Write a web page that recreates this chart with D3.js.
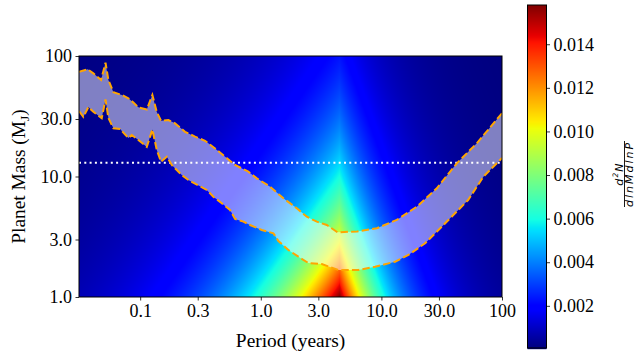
<!DOCTYPE html>
<html>
<head>
<meta charset="utf-8">
<script src="https://cdn.jsdelivr.net/npm/d3@7"></script>
<style>
  html, body { margin: 0; padding: 0; background: #ffffff; }
  svg { display: block; }
</style>
</head>
<body>
<div id="chart"></div>
<script>
// ---------------- data ----------------
const xTicks = [0.1, 0.3, 1, 3, 10, 30, 100];
const xTickLabels = ["0.1", "0.3", "1.0", "3.0", "10.0", "30.0", "100"];
const yTicks = [1, 3, 10, 30, 100];
const yTickLabels = ["1.0", "3.0", "10.0", "30.0", "100"];
const cbTicks = [0.002, 0.004, 0.006, 0.008, 0.010, 0.012, 0.014];
const cbTickLabels = ["0.002", "0.004", "0.006", "0.008", "0.010", "0.012", "0.014"];

const periodDomain = [0.0311, 100];   // years
const massDomain = [1, 100];          // Jupiter masses
const deuteriumLimit = 13;            // MJ, dotted line

// occurrence-rate model parameters (broken power law) estimated from the colours
const rateC = 0.0158;      // peak value at M = 1 MJ, P = Pbreak
const rateAlpha = -0.42;   // mass exponent
const rateBeta1 = 0.60;    // period exponent below break
const rateBeta2 = 1.15;    // period exponent above break (falling)
const rateBreak = 4.5;     // years
const colorMin = 0.000065, colorMax = 0.0158;

// band boundaries (period in years, mass in MJ)
const upperP = [0.0311, 0.0368, 0.0409, 0.0474, 0.0516, 0.0545, 0.0600, 0.0704, 0.0798, 0.0878, 0.0966, 0.1135, 0.1262, 0.1373, 0.149, 0.1714, 0.1947, 0.2356, 0.2852, 0.3452, 0.4178, 0.5058, 0.612, 0.789, 0.927, 1.194, 1.539, 1.989, 2.407, 2.913, 3.526, 4.334, 6.289, 9.161, 13.42, 19.66, 28.80, 42.2, 61.8, 100];
const upperM = [74.1, 77.5, 71.8, 63.2, 88.0, 63.2, 50.0, 47.5, 44.6, 41.1, 37.5, 36.0, 47.5, 34.3, 29.0, 29.4, 27.6, 23.5, 21.4, 19.8, 17.1, 14.6, 12.46, 10.96, 9.66, 8.23, 6.59, 5.45, 4.64, 4.22, 3.96, 3.44, 3.50, 3.72, 4.36, 5.62, 7.98, 12.87, 18.86, 33.5];
const lowerP = [0.0311, 0.0338, 0.0372, 0.0409, 0.0480, 0.0516, 0.0545, 0.0600, 0.0681, 0.0735, 0.0798, 0.0852, 0.0966, 0.1135, 0.1262, 0.1373, 0.149, 0.1662, 0.1828, 0.2213, 0.251, 0.3566, 0.4045, 0.475, 0.5566, 0.612, 0.7176, 0.815, 1.019, 1.272, 1.40, 1.694, 2.05, 2.48, 3.204, 4.40, 6.448, 8.866, 12.99, 16.74, 23.04, 31.7, 40.8, 52.4, 70.1, 100];
const lowerM = [34.97, 31.2, 37.7, 34.5, 30.4, 43.6, 30.6, 25.1, 24.8, 22.8, 20.9, 22.1, 20.1, 17.6, 24.5, 16.6, 13.27, 14.6, 12.46, 10.29, 9.35, 7.73, 6.80, 5.99, 5.27, 4.44, 4.22, 3.96, 3.60, 3.38, 2.916, 2.455, 2.16, 1.915, 1.878, 1.675, 1.675, 1.784, 1.963, 2.232, 2.79, 3.83, 4.95, 6.38, 9.96, 14.24];

// ---------------- layout ----------------
const W = 636, H = 355;
const plot = { left: 79, right: 502, top: 56, bottom: 297 };
const cb = { left: 527.5, right: 546.5, top: 5, bottom: 348 };
const serif = "'Liberation Serif', 'Times New Roman', serif";

const x = d3.scaleLog().domain(periodDomain).range([plot.left, plot.right]);
const y = d3.scaleLog().domain(massDomain).range([plot.bottom, plot.top]);
const cScale = d3.scaleLinear().domain([colorMin, colorMax]).range([0, 1]).clamp(true);
const cbY = d3.scaleLinear().domain([colorMin, colorMax]).range([cb.bottom, cb.top]);

// matplotlib 'jet'
const jr = d3.scaleLinear().domain([0, 0.35, 0.66, 0.89, 1]).range([0, 0, 1, 1, 0.5]).clamp(true);
const jg = d3.scaleLinear().domain([0, 0.125, 0.375, 0.64, 0.91, 1]).range([0, 0, 1, 1, 0, 0]).clamp(true);
const jb = d3.scaleLinear().domain([0, 0.11, 0.34, 0.65, 1]).range([0.5, 1, 1, 0, 0]).clamp(true);
function jet(t) { return [Math.round(jr(t) * 255), Math.round(jg(t) * 255), Math.round(jb(t) * 255)]; }

function rate(P, M) {
  const r = P / rateBreak;
  const fp = P < rateBreak ? Math.pow(r, rateBeta1) : Math.pow(r, -rateBeta2);
  return rateC * Math.pow(M, rateAlpha) * fp;
}

const svg = d3.select("#chart").append("svg").attr("width", W).attr("height", H);

// ---------------- heatmap ----------------
const pw = plot.right - plot.left, ph = plot.bottom - plot.top;
const canvas = document.createElement("canvas");
canvas.width = pw; canvas.height = ph;
const ctx = canvas.getContext("2d");
const img = ctx.createImageData(pw, ph);
for (let j = 0; j < ph; j++) {
  const M = y.invert(plot.top + j + 0.5);
  for (let i = 0; i < pw; i++) {
    const P = x.invert(plot.left + i + 0.5);
    const c = jet(cScale(rate(P, M)));
    const k = (j * pw + i) * 4;
    img.data[k] = c[0]; img.data[k + 1] = c[1]; img.data[k + 2] = c[2]; img.data[k + 3] = 255;
  }
}
ctx.putImageData(img, 0, 0);
svg.append("image")
  .attr("x", plot.left).attr("y", plot.top).attr("width", pw).attr("height", ph)
  .attr("preserveAspectRatio", "none")
  .attr("href", canvas.toDataURL());

svg.append("clipPath").attr("id", "clip")
  .append("rect").attr("x", plot.left).attr("y", plot.top).attr("width", pw).attr("height", ph);

const gPlot = svg.append("g").attr("clip-path", "url(#clip)");

// band
const upper = upperP.map((p, i) => [p, upperM[i]]);
const lower = lowerP.map((p, i) => [p, lowerM[i]]);
const poly = upper.concat(lower.slice().reverse());
gPlot.append("path")
  .attr("d", d3.line().x(d => x(d[0])).y(d => y(d[1]))(poly) + "Z")
  .attr("fill", "#ffffff").attr("fill-opacity", 0.5).attr("stroke", "none");

// deuterium burning limit line
gPlot.append("line")
  .attr("x1", plot.left).attr("x2", plot.right)
  .attr("y1", y(deuteriumLimit)).attr("y2", y(deuteriumLimit))
  .attr("stroke", "#ffffff").attr("stroke-width", 2).attr("stroke-dasharray", "2,3.3");

const line = d3.line().x(d => x(d[0])).y(d => y(d[1]));
[upper, lower].forEach(curve => {
  gPlot.append("path").attr("d", line(curve))
    .attr("fill", "none").attr("stroke", "#ffa500").attr("stroke-width", 2)
    .attr("stroke-dasharray", "7.4,3.2");
});

// frame
svg.append("rect").attr("x", plot.left).attr("y", plot.top).attr("width", pw).attr("height", ph)
  .attr("fill", "none").attr("stroke", "#000").attr("stroke-width", 1);

// axes
const xAxis = d3.axisBottom(x).tickValues(xTicks).tickFormat((d, i) => xTickLabels[i]).tickSizeOuter(0).tickSize(3.5).tickPadding(3.5);
const gx = svg.append("g").attr("transform", `translate(0,${plot.bottom})`).call(xAxis);
gx.select(".domain").remove();
gx.selectAll("text").attr("font-family", serif).attr("font-size", 18).attr("fill", "#000");
gx.selectAll("line").attr("stroke", "#000").attr("stroke-width", 0.8);

const yAxis = d3.axisLeft(y).tickValues(yTicks).tickFormat((d, i) => yTickLabels[i]).tickSizeOuter(0).tickSize(3.5).tickPadding(3.5);
const gy = svg.append("g").attr("transform", `translate(${plot.left},0)`).call(yAxis);
gy.select(".domain").remove();
gy.selectAll("text").attr("font-family", serif).attr("font-size", 18).attr("fill", "#000");
gy.selectAll("line").attr("stroke", "#000").attr("stroke-width", 0.8);

// axis labels
svg.append("text").attr("x", (plot.left + plot.right) / 2).attr("y", 347)
  .attr("text-anchor", "middle").attr("font-family", serif).attr("font-size", 19.4)
  .text("Period (years)");

const yl = svg.append("text")
  .attr("transform", `translate(25,${(plot.top + plot.bottom) / 2}) rotate(-90)`)
  .attr("text-anchor", "middle").attr("font-family", serif).attr("font-size", 19.4);
yl.append("tspan").text("Planet Mass (M");
yl.append("tspan").attr("font-size", 13.5).attr("dy", 4).text("J");
yl.append("tspan").attr("dy", -4).text(")");

// ---------------- colorbar ----------------
const cbSteps = d3.range(0, 344);
svg.append("g").selectAll("rect").data(cbSteps).join("rect")
  .attr("x", cb.left).attr("width", cb.right - cb.left)
  .attr("y", d => cb.top + d).attr("height", 1.2)
  .attr("fill", d => {
    const v = cbY.invert(cb.top + d + 0.5);
    const c = jet(cScale(v));
    return `rgb(${c[0]},${c[1]},${c[2]})`;
  });
svg.append("rect").attr("x", cb.left).attr("y", cb.top).attr("width", cb.right - cb.left).attr("height", cb.bottom - cb.top)
  .attr("fill", "none").attr("stroke", "#000").attr("stroke-width", 1);

const cbAxis = d3.axisRight(cbY).tickValues(cbTicks).tickFormat((d, i) => cbTickLabels[i]).tickSizeOuter(0).tickSize(3.5).tickPadding(3.5);
const gcb = svg.append("g").attr("transform", `translate(${cb.right},0)`).call(cbAxis);
gcb.select(".domain").remove();
gcb.selectAll("text").attr("font-family", serif).attr("font-size", 18).attr("fill", "#000");
gcb.selectAll("line").attr("stroke", "#000").attr("stroke-width", 0.8);

// colorbar label: fraction d^2N / dlnMdlnP (rotated)
const sans = "'DejaVu Sans', sans-serif";
const fr = svg.append("g").attr("transform", "translate(624.5,174) rotate(-90)");
const num = fr.append("text").attr("x", 0).attr("y", -1.8).attr("text-anchor", "middle")
  .attr("font-family", sans).attr("font-style", "italic").attr("font-size", 11)
  .attr("letter-spacing", 1.2);
num.append("tspan").text("d");
num.append("tspan").attr("font-size", 7.5).attr("dy", -4.5).text("2");
num.append("tspan").attr("dy", 4.5).text("N");
fr.append("line").attr("x1", -33).attr("x2", 33).attr("y1", 0).attr("y2", 0)
  .attr("stroke", "#000").attr("stroke-width", 0.9);
fr.append("text").attr("x", 0).attr("y", 8.2).attr("text-anchor", "middle")
  .attr("font-family", sans).attr("font-style", "italic").attr("font-size", 11)
  .attr("letter-spacing", 2)
  .text("dlnMdlnP");
</script>
</body>
</html>
